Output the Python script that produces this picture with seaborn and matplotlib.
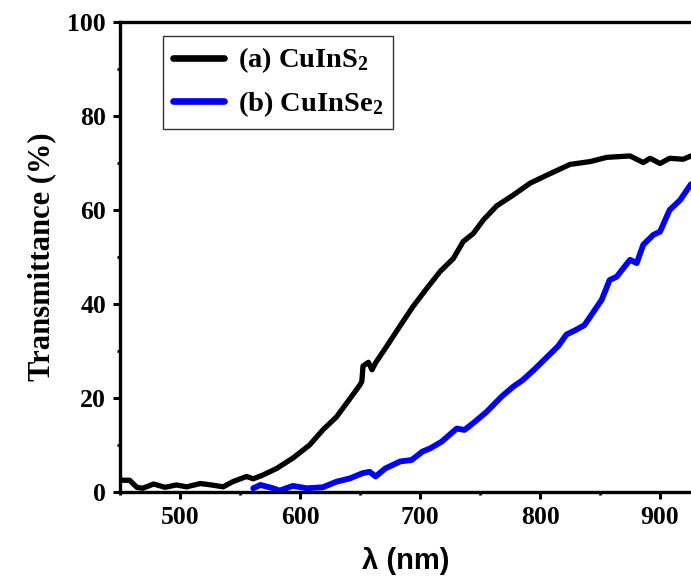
import matplotlib
matplotlib.use("Agg")
import matplotlib.pyplot as plt
import seaborn as sns
from matplotlib.ticker import MultipleLocator

# (a) CuInS2 transmittance
wl_cuins2 = [450, 452.8, 458, 464, 469, 478, 487.5, 497, 505.5, 517, 526, 536, 544,
             555.5, 561, 569, 580.5, 594, 608, 619, 630.5, 641.7, 650, 651.5, 652.5,
             657, 660, 663, 672, 683, 694, 705.6, 716.7, 727.8, 736, 744.4, 752.8,
             764, 777.8, 791.7, 805.6, 825, 841.7, 855.6, 875, 886, 891.7, 900, 908,
             919.4, 925.8]
t_cuins2 = [2.6, 2.5, 2.5, 1.0, 0.8, 1.7, 1.0, 1.5, 1.1, 1.8, 1.5, 1.1, 2.2,
            3.3, 2.8, 3.6, 5.0, 7.2, 10.0, 13.2, 16.0, 19.9, 22.8, 23.5, 26.8,
            27.6, 26.0, 27.5, 30.9, 35.2, 39.4, 43.3, 46.9, 49.7, 53.3, 55.0, 57.9,
            60.9, 63.2, 65.7, 67.4, 69.7, 70.3, 71.2, 71.5, 70.1, 71.0, 69.9, 71.0,
            70.8, 71.5]

# (b) CuInSe2 transmittance
wl_cuinse2 = [561, 567, 577.5, 583, 594, 605.5, 619, 630.5, 641.7, 652, 658, 663,
              671, 683.5, 693, 702, 708.6, 718, 730.6, 737, 746, 755.7, 768, 777.6,
              785.5, 795, 805, 815, 822, 830, 837, 845, 851.4, 858, 863.9, 869.4,
              875, 880.6, 886, 894.4, 900, 908, 916.7, 925.8]
t_cuinse2 = [0.8, 1.5, 0.8, 0.3, 1.3, 0.8, 1.0, 2.2, 2.9, 4.0, 4.3, 3.3,
             5.0, 6.5, 6.8, 8.6, 9.3, 10.7, 13.5, 13.2, 15.0, 17.1, 20.3, 22.4,
             23.8, 26.0, 28.5, 31.0, 33.5, 34.5, 35.5, 38.5, 40.9, 45.1, 45.8, 47.6,
             49.4, 48.7, 52.6, 54.7, 55.4, 60.0, 62.1, 65.5]

labels = ["(a) CuInS$_2$", "(b) CuInSe$_2$"]

sns.set_style("ticks")
plt.rcParams["font.family"] = ["Liberation Serif", "DejaVu Serif"]
plt.rcParams["font.weight"] = "bold"
plt.rcParams["mathtext.fontset"] = "custom"
plt.rcParams["mathtext.rm"] = "Liberation Serif:bold"
plt.rcParams["mathtext.default"] = "rm"
for key in ["text.color", "axes.labelcolor", "xtick.color", "ytick.color", "axes.edgecolor"]:
    plt.rcParams[key] = "black"

fig = plt.figure(figsize=(6.91, 5.84), dpi=100)
ax = fig.add_axes([120 / 691, 92 / 584, 571 / 691, 470 / 584])

sns.lineplot(x=wl_cuins2, y=t_cuins2, ax=ax, color="black", linewidth=3.8,
             sort=False, label=labels[0])
sns.lineplot(x=wl_cuinse2, y=t_cuinse2, ax=ax, color="#0000ff", linewidth=4.2,
             sort=False, label=labels[1])

ax.set_xlim(450, 925.8)
ax.set_ylim(0, 100)
ax.xaxis.set_major_locator(MultipleLocator(100))
ax.xaxis.set_minor_locator(MultipleLocator(50))
ax.yaxis.set_major_locator(MultipleLocator(20))
ax.yaxis.set_minor_locator(MultipleLocator(10))

for side in ["left", "bottom", "top"]:
    ax.spines[side].set_linewidth(2.4)
ax.spines["right"].set_visible(False)

ax.tick_params(which="major", direction="out", length=5, width=2.2,
               labelsize=18.5, pad=5)
ax.tick_params(which="minor", direction="out", length=2.5, width=2.0)
for lab in ax.get_xticklabels() + ax.get_yticklabels():
    lab.set_fontweight("bold")

ax.set_ylabel("Transmittance (%)", fontsize=22, fontweight="bold", labelpad=8)
ax.set_xlabel("λ (nm)", fontsize=21, fontweight="bold",
              family=["Liberation Sans", "DejaVu Sans"], labelpad=13)

leg = ax.legend(loc="upper left", bbox_to_anchor=(0.0748, 0.971), borderaxespad=0,
                prop={"family": "Liberation Serif", "weight": "bold", "size": 20.5},
                handlelength=1.8, handletextpad=0.5, labelspacing=0.5,
                borderpad=0.35, frameon=True, fancybox=False, edgecolor="black")
leg.get_frame().set_linewidth(1.0)
for line in leg.get_lines():
    line.set_linewidth(4.8)

fig.savefig("out.png", dpi=100)
